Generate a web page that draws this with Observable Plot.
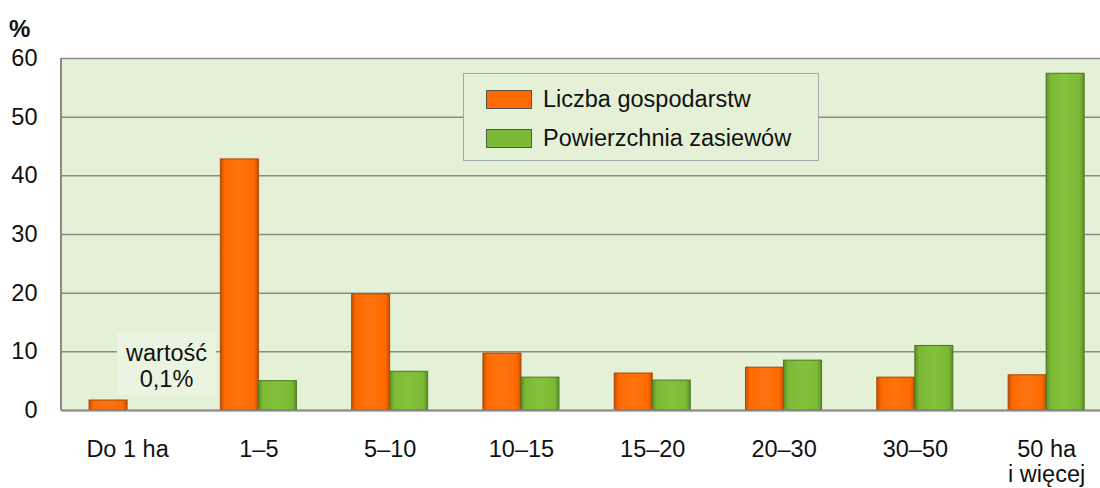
<!DOCTYPE html>
<html>
<head>
<meta charset="utf-8">
<script src="https://cdn.jsdelivr.net/npm/d3@7"></script>
<script src="https://cdn.jsdelivr.net/npm/@observablehq/plot@0.6"></script>
<style>
  html, body { margin: 0; padding: 0; background: #fff; overflow: hidden; width: 1100px; height: 488px; }
  #wrap { position: relative; width: 1100px; height: 488px; overflow: hidden; font-family: "Liberation Sans", Arial, sans-serif; }
  #unit { position: absolute; left: 9px; top: 15px; font-size: 24px; font-weight: bold; color: #111; }
  #legend { position: absolute; left: 463px; top: 73px; width: 354px; height: 86px; border: 1.5px solid #a8a8a8; background: #e5f1d6; }
  .item { position: absolute; left: 22px; font-size: 23.5px; color: #111; height: 20px; line-height: 20px; }
  .sw { position: absolute; left: 0; top: 0px; width: 44px; height: 17px; border: 1px solid #555; }
  .lab { position: absolute; left: 57px; top: -1px; white-space: nowrap; }
  svg { position: absolute; left: 0; top: 0; max-width: none !important; }
</style>
</head>
<body>
<div id="wrap">
  <div id="chart"></div>
  <div id="unit">%</div>
  <div id="legend"></div>
</div>
<script>
const categories = ["Do 1 ha", "1–5", "5–10", "10–15", "15–20", "20–30", "30–50", "50 ha\ni więcej"];
const liczbaGospodarstw = [1.7, 42.8, 19.8, 9.7, 6.3, 7.3, 5.6, 6.0];
const powierzchniaZasiewow = [0.1, 5.0, 6.6, 5.6, 5.1, 8.5, 11.0, 57.4];
const seriesNames = ["Liczba gospodarstw", "Powierzchnia zasiewów"];
const seriesColors = ["#ff6a00", "#7cb936"];
const seriesStrokes = ["#a84400", "#4b7420"];
const yTicks = [0, 10, 20, 30, 40, 50, 60];
const noteText = "wartość\n0,1%";
const noteCategory = "Do 1 ha";
const noteY = 7.6;
const noteBox = [2.6, 13.3];

const rowsA = categories.map((c, i) => ({cat: c, v: liczbaGospodarstw[i]}));
const rowsB = categories.map((c, i) => ({cat: c, v: powierzchniaZasiewow[i]}));

const plot = Plot.plot({
  width: 1112,
  height: 488,
  marginLeft: 61,
  marginRight: 0,
  marginTop: 58,
  marginBottom: 78,
  style: {fontFamily: "'Liberation Sans', Arial, sans-serif", fontSize: "23.5px", color: "#111", background: "transparent", overflow: "visible", maxWidth: "none"},
  x: {type: "band", domain: categories, range: [61.4, 1111.8], paddingInner: 0.7106, paddingOuter: 0.3553, round: false, label: null},
  y: {domain: [0, 60], ticks: yTicks, label: null},
  marks: [
    Plot.frame({fill: "#e5f1d6", stroke: "none"}),
    Plot.gridY(yTicks, {stroke: "#8a8a8a", strokeOpacity: 1, strokeWidth: 1.5}),
    Plot.barY([noteCategory], {x: d => d, y1: () => noteBox[0], y2: () => noteBox[1], dx: 39, insetLeft: -30, insetRight: -31, fill: "#eaf5e1"}),
    Plot.text([noteText], {x: () => noteCategory, y: () => noteY, text: d => d, dx: 39, fontSize: 23.5, lineHeight: 1.1, fill: "#111"}),
    Plot.barY(rowsA, {x: "cat", y: "v", dx: -19, fill: "url(#gradO)", stroke: seriesStrokes[0], strokeWidth: 1}),
    Plot.barY(rowsB.filter(d => d.v >= 1), {x: "cat", y: "v", dx: 19, fill: "url(#gradG)", stroke: seriesStrokes[1], strokeWidth: 1}),
    Plot.ruleY([0], {stroke: "#8a8a8a", strokeWidth: 2}),
    Plot.axisX({tickSize: 0, tickPadding: 29, lineHeight: 1.07, fontSize: 23.5}),
    Plot.axisY(yTicks, {tickSize: 0, tickPadding: 24, fontSize: 23.5})
  ]
});

const svg = d3.select(plot.tagName === "svg" ? plot : plot.querySelector("svg"));
const defs = svg.insert("defs", ":first-child");
function grad(id, edge, mid, light) {
  const g = defs.append("linearGradient").attr("id", id).attr("x1", 0).attr("x2", 1).attr("y1", 0).attr("y2", 0);
  g.append("stop").attr("offset", "0%").attr("stop-color", edge);
  g.append("stop").attr("offset", "12%").attr("stop-color", mid);
  g.append("stop").attr("offset", "50%").attr("stop-color", light);
  g.append("stop").attr("offset", "88%").attr("stop-color", mid);
  g.append("stop").attr("offset", "100%").attr("stop-color", edge);
}
grad("gradO", "#c85200", seriesColors[0], "#ff7410");
grad("gradG", "#5e8f28", seriesColors[1], "#84c23c");
document.getElementById("chart").appendChild(plot);
svg.append("line").attr("x1", 61).attr("x2", 61).attr("y1", 58).attr("y2", 410).attr("stroke", "#8a8a8a").attr("stroke-width", 2);

const legend = document.getElementById("legend");
seriesNames.forEach((name, i) => {
  const item = document.createElement("div");
  item.className = "item";
  item.style.top = (16 + i * 39) + "px";
  item.innerHTML = `<div class="sw" style="background:${seriesColors[i]}"></div><div class="lab">${name}</div>`;
  legend.appendChild(item);
});
</script>
</body>
</html>
